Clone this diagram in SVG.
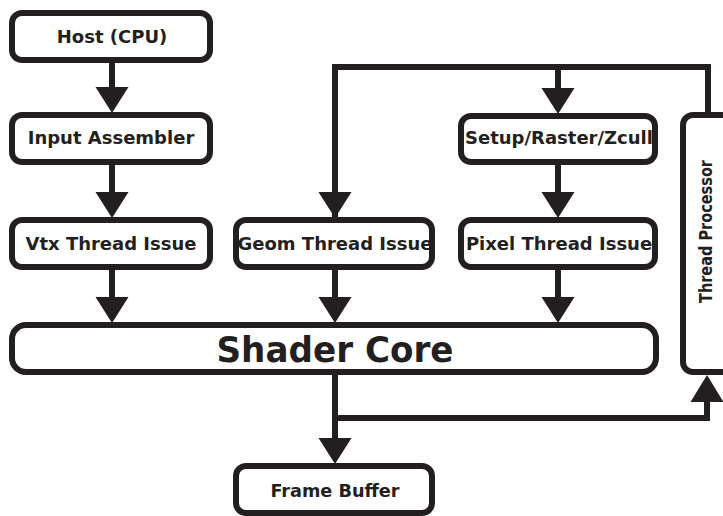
<svg xmlns="http://www.w3.org/2000/svg" xmlns:xlink="http://www.w3.org/1999/xlink" width="723" height="516" viewBox="0 0 723 516">
<style>
.box{fill:#fff;stroke:#231f20;stroke-width:6}
.lbl{font-family:"DejaVu Sans",Verdana,sans-serif;font-weight:bold;font-size:18px;fill:#231f20;text-anchor:middle}
.cond{font-family:"DejaVu Sans Condensed","DejaVu Sans",sans-serif;font-stretch:condensed;font-weight:bold;fill:#231f20;text-anchor:middle}
.ln{fill:none;stroke:#231f20;stroke-width:6;stroke-linejoin:miter;stroke-linecap:butt}
.ah{fill:#231f20}
</style>
<defs>
<polygon id="down" points="-16.5,0 16.5,0 0,26"/>
<polygon id="up" points="-16.5,0 16.5,0 0,-27"/>
</defs>
<rect width="723" height="516" fill="#fff"/>
<g id="connectors">
<path class="ln" d="M112,63V88 M112,165V193 M112,270V298"/>
<path class="ln" d="M335,217V67H708V115 M558,67V90"/>
<path class="ln" d="M335,270V298 M558,165V193 M558,270V298"/>
<path class="ln" d="M335,375V440 M335,418H707V400"/>
<use xlink:href="#down" class="ah" x="112" y="87"/>
<use xlink:href="#down" class="ah" x="112" y="192"/>
<use xlink:href="#down" class="ah" x="112" y="297"/>
<use xlink:href="#down" class="ah" x="335" y="192"/>
<use xlink:href="#down" class="ah" x="335" y="297"/>
<use xlink:href="#down" class="ah" x="558" y="88"/>
<use xlink:href="#down" class="ah" x="558" y="192"/>
<use xlink:href="#down" class="ah" x="558" y="297"/>
<use xlink:href="#down" class="ah" x="335" y="438"/>
<use xlink:href="#up" class="ah" x="707" y="402"/>
</g>
<g id="host"><rect class="box" x="12" y="13" width="198" height="47" rx="10"/><text class="lbl" x="112" y="43">Host (CPU)</text></g>
<g id="input-assembler"><rect class="box" x="12" y="115" width="198" height="47" rx="10"/><text class="lbl" x="111" y="144">Input Assembler</text></g>
<g id="vtx-thread-issue"><rect class="box" x="12" y="220" width="198" height="47" rx="10"/><text class="lbl" x="111" y="250">Vtx Thread Issue</text></g>
<g id="geom-thread-issue"><rect class="box" x="236" y="220" width="196" height="47" rx="10"/><text class="lbl" x="335" y="250">Geom Thread Issue</text></g>
<g id="setup-raster-zcull"><rect class="box" x="461" y="116" width="194" height="46" rx="10"/><text class="lbl" x="559" y="144">Setup/Raster/Zcull</text></g>
<g id="pixel-thread-issue"><rect class="box" x="461" y="220" width="194" height="47" rx="10"/><text class="lbl" x="559" y="250">Pixel Thread Issue</text></g>
<g id="thread-processor"><rect class="box" x="683" y="115" width="52" height="257" rx="10"/><text class="lbl" transform="translate(712,231.5) rotate(-90)" textLength="143" lengthAdjust="spacingAndGlyphs">Thread Processor</text></g>
<g id="shader-core"><rect class="box" x="12" y="325" width="644" height="47" rx="14"/><text class="cond" x="335" y="362" font-size="36" textLength="237" lengthAdjust="spacingAndGlyphs">Shader Core</text></g>
<g id="frame-buffer"><rect class="box" x="236" y="466" width="196" height="47" rx="10"/><text class="cond" x="335" y="497" font-size="18" textLength="129" lengthAdjust="spacingAndGlyphs">Frame Buffer</text></g>
</svg>
